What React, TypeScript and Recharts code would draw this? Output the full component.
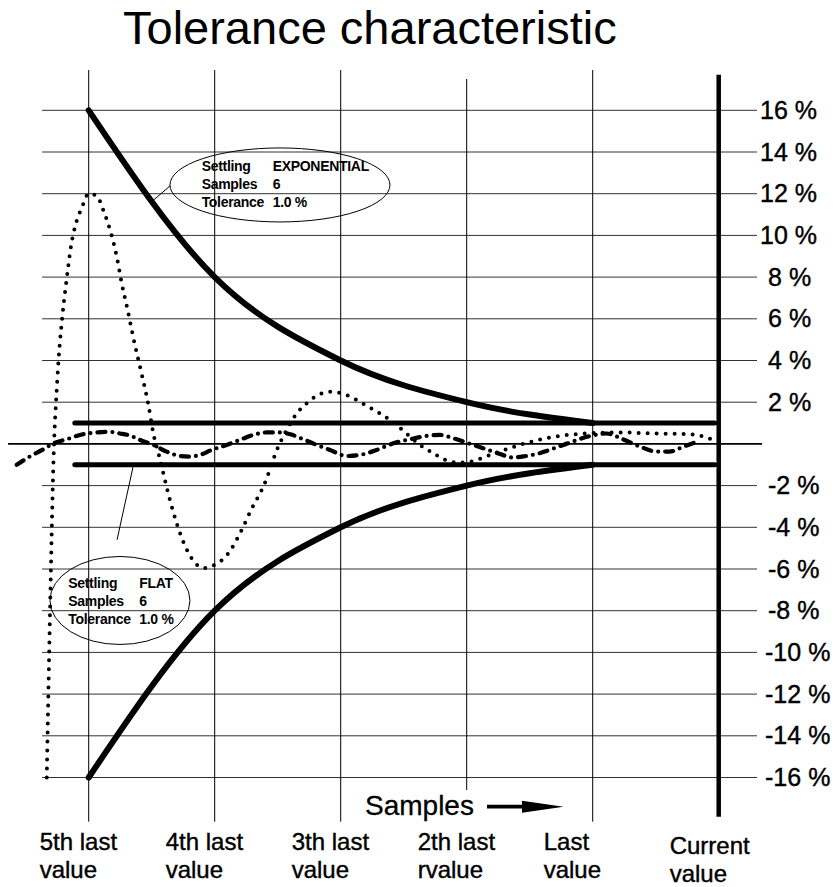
import React from "react";
import { LineChart, Line, XAxis, YAxis, ReferenceLine, ReferenceDot } from "recharts";

const FONT = '"Liberation Sans", Arial, Helvetica, sans-serif';

// samples on the x axis (0 = 5th last value ... 5 = current value)
const sampleTicks = [0, 1, 2, 3, 4, 5];
const sampleLabels = [
  ["5th last", "value"],
  ["4th last", "value"],
  ["3th last", "value"],
  ["2th last", "rvalue"],
  ["Last", "value"],
  ["Current", "value"],
];
const percentTicks = [16, 14, 12, 10, 8, 6, 4, 2, -2, -4, -6, -8, -10, -12, -14, -16];

// exponential settling envelope
const envelopeX = [0, 1, 2, 3, 4];
const envelopeUpper = [16, 8, 4, 2, 1];
const envelopeLower = [-16, -8, -4, -2, -1];

// flat tolerance band (+/- 1.0 %)
const bandX = [-0.11, 4.97];
const bandUpper = [1, 1];
const bandLower = [-1, -1];

// dotted signal (damped oscillation)
const dottedSignal: [number, number][] = [
  [-0.333, -16], [-0.305, -7.5], [-0.28, -0.9], [-0.25, 3], [-0.206, 6.3], [-0.175, 7.9],
  [-0.14, 9.5], [-0.1, 10.6], [-0.056, 11.3], [0, 12], [0.063, 11.9], [0.116, 11.2],
  [0.177, 10.1], [0.222, 9.0], [0.262, 7.7], [0.31, 6.4], [0.354, 5.1], [0.407, 3.7],
  [0.473, 1.9], [0.513, 0.5], [0.56, -0.6], [0.645, -2.7], [0.698, -3.8], [0.765, -4.9],
  [0.83, -5.6], [0.915, -5.95], [1.0, -5.8], [1.108, -5.25], [1.2, -4.3], [1.294, -3.1],
  [1.386, -2.05], [1.505, -0.13], [1.571, 0.67], [1.651, 1.46], [1.73, 1.94], [1.836, 2.39],
  [1.915, 2.5], [2.048, 2.34], [2.2, 1.85], [2.39, 1.15], [2.497, 0.63], [2.63, -0.05],
  [2.735, -0.45], [2.83, -0.77], [2.93, -0.9], [3.03, -0.85], [3.2, -0.5], [3.45, 0.0],
  [3.7, 0.35], [3.95, 0.5], [4.2, 0.55], [4.5, 0.5], [4.8, 0.45], [4.95, 0.2],
];

// dash-dot signal (small oscillation around zero)
const dashDotSignal: [number, number][] = [
  [-0.571, -1.0], [-0.466, -0.6], [-0.36, -0.26], [-0.267, 0.06], [-0.175, 0.22], [-0.069, 0.43],
  [0.063, 0.55], [0.156, 0.58], [0.248, 0.5], [0.328, 0.4], [0.407, 0.19], [0.513, -0.05],
  [0.619, -0.37], [0.725, -0.58], [0.804, -0.61], [0.883, -0.53], [0.976, -0.29], [1.095, -0.05],
  [1.2, 0.19], [1.306, 0.43], [1.413, 0.55], [1.518, 0.55], [1.6, 0.46], [1.703, 0.22],
  [1.81, -0.05], [1.915, -0.29], [2.048, -0.58], [2.153, -0.53], [2.286, -0.29], [2.418, 0.03],
  [2.55, 0.22], [2.68, 0.38], [2.788, 0.43], [2.894, 0.27], [3.0, 0.06], [3.13, -0.21],
  [3.264, -0.48], [3.357, -0.65], [3.45, -0.6], [3.556, -0.48], [3.767, -0.05], [3.98, 0.38],
  [4.11, 0.5], [4.24, 0.22], [4.375, -0.13], [4.51, -0.37], [4.61, -0.37], [4.72, -0.13],
  [4.825, 0.1],
];

const expText = [["Settling", "EXPONENTIAL"], ["Samples", "6"], ["Tolerance", "1.0 %"]];
const flatText = [["Settling", "FLAT"], ["Samples", "6"], ["Tolerance", "1.0 %"]];

const toPoints = (xs: number[], ys: number[]) => xs.map((x, i) => ({ x, y: ys[i] }));
const fromPairs = (pairs: [number, number][]) => pairs.map(([x, y]) => ({ x, y }));

const XTick = (props: any) => {
  const { x, y, payload, index } = props;
  const lines = sampleLabels[index] || [String(payload.value)];
  const extra = index === 5 ? 4 : 0;
  return (
    <text x={x - 49} y={y + 27 + extra} fontFamily={FONT} fontSize={24} fill="#000" stroke="#000" strokeWidth={0.4} textAnchor="start">
      <tspan x={x - 49}>{lines[0]}</tspan>
      <tspan x={x - 49} dy={28}>{lines[1]}</tspan>
    </text>
  );
};

const YTick = (props: any) => {
  const { x, y, payload } = props;
  const v = payload.value as number;
  const digits = Math.abs(v) >= 10;
  const dx = digits ? (v > 0 ? -4 : 1) : 4;
  return (
    <text x={x + dx} y={y} dy={8.5} fontFamily={FONT} fontSize={25} fill="#000" stroke="#000" strokeWidth={0.4} textAnchor="start">
      {`${v} %`}
    </text>
  );
};

const callout = (rows: string[][], rx: number, ry: number, col1: number, col2: number, top: number) =>
  (p: any) => (
    <g>
      <ellipse cx={p.cx} cy={p.cy} rx={rx} ry={ry} fill="none" stroke="#000" strokeWidth={1} />
      {rows.map((r, i) => (
        <text key={i} y={p.cy + top + i * 18} fontFamily={FONT} fontSize={14} letterSpacing={-0.3} fontWeight="bold" fill="#000">
          <tspan x={p.cx + col1}>{r[0]}</tspan>
          <tspan x={p.cx + col2}>{r[1]}</tspan>
        </text>
      ))}
    </g>
  );

export default function App() {
  const gridTop = (k: number) => (k === 3 ? 17.5 : k === 5 ? 17.7 : 17.93);
  const gridBottom = (k: number) => (k === 3 ? -16.6 : k === 5 ? -17.88 : -18.12);
  return (
    <div style={{ position: "absolute", left: 0, top: 0, width: 837, height: 887, background: "#fff" }}>
      <LineChart width={837} height={887} margin={{ top: 68.6, right: 0, bottom: 0, left: 5.54 }}>
        <XAxis
          type="number"
          dataKey="x"
          domain={[-0.66, 5.36]}
          ticks={sampleTicks}
          interval={0}
          allowDataOverflow
          height={63.63}
          axisLine={false}
          tickLine={false}
          tickSize={0}
          tickMargin={0}
          tick={XTick}
        />
        <YAxis
          type="number"
          orientation="right"
          domain={[-18.2, 18]}
          ticks={percentTicks}
          interval={0}
          allowDataOverflow
          width={72.94}
          axisLine={false}
          tickLine={false}
          tickSize={0}
          tickMargin={0}
          tick={YTick}
        />
        {percentTicks.map((v) => (
          <ReferenceLine
            key={`h${v}`}
            segment={[{ x: -0.37, y: v }, { x: 5.304, y: v }]}
            stroke="#333"
            strokeWidth={1}
            ifOverflow="visible"
          />
        ))}
        <ReferenceLine
          segment={[{ x: -0.64, y: 0 }, { x: 5.344, y: 0 }]}
          stroke="#000"
          strokeWidth={1.6}
          ifOverflow="visible"
        />
        {sampleTicks.map((k) => (
          <ReferenceLine
            key={`v${k}`}
            segment={[{ x: k, y: gridTop(k) }, { x: k, y: gridBottom(k) }]}
            stroke="#000"
            strokeWidth={k === 5 ? 4.5 : 1}
            ifOverflow="visible"
          />
        ))}
        <Line data={toPoints(bandX, bandUpper)} dataKey="y" type="linear" stroke="#000" strokeWidth={5} strokeLinecap="round" dot={false} activeDot={false} isAnimationActive={false} />
        <Line data={toPoints(bandX, bandLower)} dataKey="y" type="linear" stroke="#000" strokeWidth={5} strokeLinecap="round" dot={false} activeDot={false} isAnimationActive={false} />
        <Line data={toPoints(envelopeX, envelopeUpper)} dataKey="y" type="monotone" stroke="#000" strokeWidth={6} strokeLinecap="round" dot={false} activeDot={false} isAnimationActive={false} />
        <Line data={toPoints(envelopeX, envelopeLower)} dataKey="y" type="monotone" stroke="#000" strokeWidth={6} strokeLinecap="round" dot={false} activeDot={false} isAnimationActive={false} />
        <Line data={fromPairs(dottedSignal)} dataKey="y" type="monotone" stroke="#000" strokeWidth={4} strokeDasharray="0 9" strokeLinecap="round" dot={false} activeDot={false} isAnimationActive={false} />
        <Line data={fromPairs(dashDotSignal)} dataKey="y" type="monotone" stroke="#000" strokeWidth={4.2} strokeDasharray="8 7 0 7" strokeLinecap="round" dot={false} activeDot={false} isAnimationActive={false} />
        <ReferenceLine segment={[{ x: 0.645, y: 12.37 }, { x: 0.5, y: 11.62 }]} stroke="#000" strokeWidth={1} ifOverflow="visible" />
        <ReferenceLine segment={[{ x: 0.352, y: -1.1 }, { x: 0.225, y: -4.6 }]} stroke="#000" strokeWidth={1} ifOverflow="visible" />
        <ReferenceDot x={1.518} y={12.42} r={1} ifOverflow="visible" shape={callout(expText, 110, 37, -78.3, -7.3, -14.3)} />
        <ReferenceDot x={0.248} y={-7.51} r={1} ifOverflow="visible" shape={callout(flatText, 70, 44, -51.7, 19.3, -12.5)} />
      </LineChart>
      <svg width={837} height={887} style={{ position: "absolute", left: 0, top: 0, pointerEvents: "none" }}>
        <text x={123} y={44} fontFamily={FONT} fontSize={47} fill="#000">Tolerance characteristic</text>
        <text x={365} y={815} fontFamily={FONT} fontSize={28} fill="#000" stroke="#000" strokeWidth={0.3}>Samples</text>
        <path d="M487,804.8 L522,804.8 L522,800.7 L563.5,806.7 L522,812.7 L522,808.6 L487,808.6 Z" fill="#000" />
      </svg>
    </div>
  );
}
